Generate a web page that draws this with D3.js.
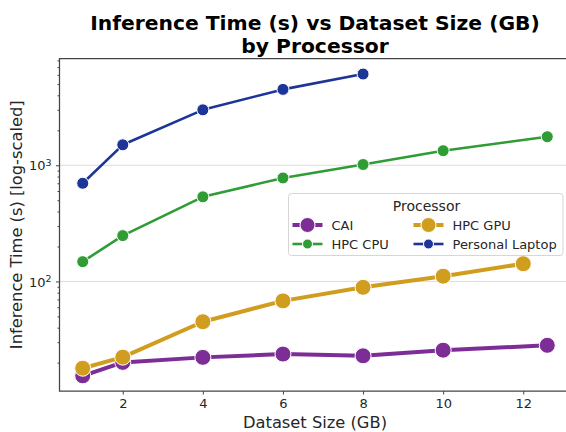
<!DOCTYPE html>
<html>
<head>
<meta charset="utf-8">
<script src="https://cdn.jsdelivr.net/npm/d3@7"></script>
<style>
  body { margin: 0; background: #fff; }
  svg { display: block; font-family: "DejaVu Sans", sans-serif; }
</style>
</head>
<body>
<div id="chart"></div>
<script>
// Data
const processors = ["CAI", "HPC GPU", "HPC CPU", "Personal Laptop"];
const caiSize = [1, 2, 4, 6, 8, 10, 12.6];
const caiTime = [15.4, 20.1, 22.2, 23.7, 22.9, 25.6, 28.2];
const gpuSize = [1, 2, 4, 6, 8, 10, 12];
const gpuTime = [17.9, 22.3, 45, 68, 89, 111, 142];
const cpuSize = [1, 2, 4, 6, 8, 10, 12.6];
const cpuTime = [148, 248, 535, 778, 1015, 1335, 1760];
const laptopSize = [1, 2, 4, 6, 8];
const laptopTime = [700, 1500, 3000, 4500, 6100];
const xTicks = [2, 4, 6, 8, 10, 12];
const yTicks = [100, 1000];

const colors = {
  "CAI": "#7d2e96",
  "HPC GPU": "#d19d1e",
  "HPC CPU": "#2f9c35",
  "Personal Laptop": "#1c3596"
};
const thick = { "CAI": true, "HPC GPU": true, "HPC CPU": false, "Personal Laptop": false };

const series = [
  { name: "CAI", xs: caiSize, ys: caiTime },
  { name: "HPC GPU", xs: gpuSize, ys: gpuTime },
  { name: "HPC CPU", xs: cpuSize, ys: cpuTime },
  { name: "Personal Laptop", xs: laptopSize, ys: laptopTime }
];

const width = 566;
const height = 432;
const plot = { left: 59.5, right: 570.5, top: 58.5, bottom: 391 };

const svg = d3.select("#chart")
  .append("svg")
  .attr("width", width)
  .attr("height", height);

const x = d3.scaleLinear().domain([0.42, 13.18]).range([plot.left, plot.right]);
const y = d3.scaleLog().domain([11.4, 8300]).range([plot.bottom, plot.top]);

// Horizontal grid lines at major ticks
svg.append("g")
  .selectAll("line")
  .data(yTicks)
  .join("line")
  .attr("x1", plot.left)
  .attr("x2", plot.right)
  .attr("y1", d => y(d))
  .attr("y2", d => y(d))
  .attr("stroke", "#dcdcdc")
  .attr("stroke-width", 1);

// Lines and markers
const line = d3.line().x(d => x(d[0])).y(d => y(d[1]));

series.forEach(s => {
  const pts = s.xs.map((v, i) => [v, s.ys[i]]);
  const g = svg.append("g");
  g.append("path")
    .datum(pts)
    .attr("d", line)
    .attr("fill", "none")
    .attr("stroke", colors[s.name])
    .attr("stroke-width", thick[s.name] ? 4 : 2.6)
    .attr("stroke-linejoin", "round")
    .attr("stroke-linecap", "round");
  g.selectAll("circle")
    .data(pts)
    .join("circle")
    .attr("cx", d => x(d[0]))
    .attr("cy", d => y(d[1]))
    .attr("r", thick[s.name] ? 8 : 6)
    .attr("fill", colors[s.name])
    .attr("stroke", "#fff")
    .attr("stroke-width", 1);
});

// Axes
const xAxis = svg.append("g")
  .attr("transform", `translate(0,${plot.bottom})`)
  .call(d3.axisBottom(x).tickValues(xTicks).tickSize(3.5).tickPadding(4).tickFormat(d3.format("d")));

const minorY = [];
[10, 100, 1000].forEach(dec => {
  for (let k = 2; k <= 9; k++) {
    const v = dec * k;
    if (v >= 11.4 && v <= 8300) minorY.push(v);
  }
});

const yAxisMinor = svg.append("g")
  .attr("transform", `translate(${plot.left},0)`)
  .call(d3.axisLeft(y).tickValues(minorY).tickSize(2).tickFormat(""));

const supers = { 100: "2", 1000: "3" };
const yAxis = svg.append("g")
  .attr("transform", `translate(${plot.left},0)`)
  .call(d3.axisLeft(y).tickValues(yTicks).tickSize(3.5).tickPadding(4).tickFormat(""));

yAxis.selectAll(".tick")
  .append("text")
  .attr("x", -8)
  .attr("dy", "0.35em")
  .attr("text-anchor", "end")
  .attr("fill", "#262626")
  .attr("font-size", 13)
  .html(d => `10<tspan dy="-0.45em" font-size="9.5">${supers[d]}</tspan>`);

[xAxis, yAxis, yAxisMinor].forEach(a => {
  a.select(".domain").remove();
  a.selectAll(".tick line").attr("stroke", "#444").attr("stroke-width", 1);
  a.selectAll(".tick text").attr("fill", "#262626").attr("font-size", 13)
    .attr("font-family", "DejaVu Sans, sans-serif");
});

// Spines (left, top, bottom; right falls outside the picture)
svg.append("path")
  .attr("d", `M${plot.right},${plot.top}H${plot.left}V${plot.bottom}H${plot.right}`)
  .attr("fill", "none")
  .attr("stroke", "#444")
  .attr("stroke-width", 1.25);

// Title
const cx = (plot.left + plot.right) / 2;
const title = svg.append("text")
  .attr("text-anchor", "middle")
  .attr("font-size", 20.3)
  .attr("font-weight", "bold")
  .attr("fill", "#000");
title.append("tspan").attr("x", cx).attr("y", 30).text("Inference Time (s) vs Dataset Size (GB)");
title.append("tspan").attr("x", cx).attr("y", 53).text("by Processor");

// Axis labels
svg.append("text")
  .attr("x", cx)
  .attr("y", 428)
  .attr("text-anchor", "middle")
  .attr("font-size", 16.3)
  .attr("fill", "#262626")
  .text("Dataset Size (GB)");

svg.append("text")
  .attr("transform", `translate(22,${(plot.top + plot.bottom) / 2}) rotate(-90)`)
  .attr("text-anchor", "middle")
  .attr("font-size", 16.3)
  .attr("fill", "#262626")
  .text("Inference Time (s) [log-scaled]");

// Legend
const legend = svg.append("g").attr("transform", "translate(288.5,193.5)");
legend.append("rect")
  .attr("width", 274.5)
  .attr("height", 62)
  .attr("rx", 3)
  .attr("fill", "#fff")
  .attr("fill-opacity", 0.85)
  .attr("stroke", "#d6d6d6")
  .attr("stroke-width", 1);
legend.append("text")
  .attr("x", 138)
  .attr("y", 17)
  .attr("text-anchor", "middle")
  .attr("font-size", 14)
  .attr("fill", "#262626")
  .text("Processor");

const legendOrder = ["CAI", "HPC GPU", "HPC CPU", "Personal Laptop"];
legendOrder.forEach((name, i) => {
  const col = i % 2;
  const row = Math.floor(i / 2);
  const lx = 4 + col * 121;
  const ly = 31.5 + row * 19;
  const item = legend.append("g").attr("transform", `translate(${lx},${ly})`);
  item.append("line")
    .attr("x1", 0).attr("x2", 30)
    .attr("stroke", colors[name])
    .attr("stroke-width", thick[name] ? 4 : 2.6);
  item.append("circle")
    .attr("cx", 15)
    .attr("r", thick[name] ? 7.5 : 5)
    .attr("fill", colors[name])
    .attr("stroke", "#fff")
    .attr("stroke-width", 1);
  item.append("text")
    .attr("x", 39)
    .attr("dy", "0.35em")
    .attr("font-size", 13)
    .attr("fill", "#262626")
    .text(name);
});
</script>
</body>
</html>
